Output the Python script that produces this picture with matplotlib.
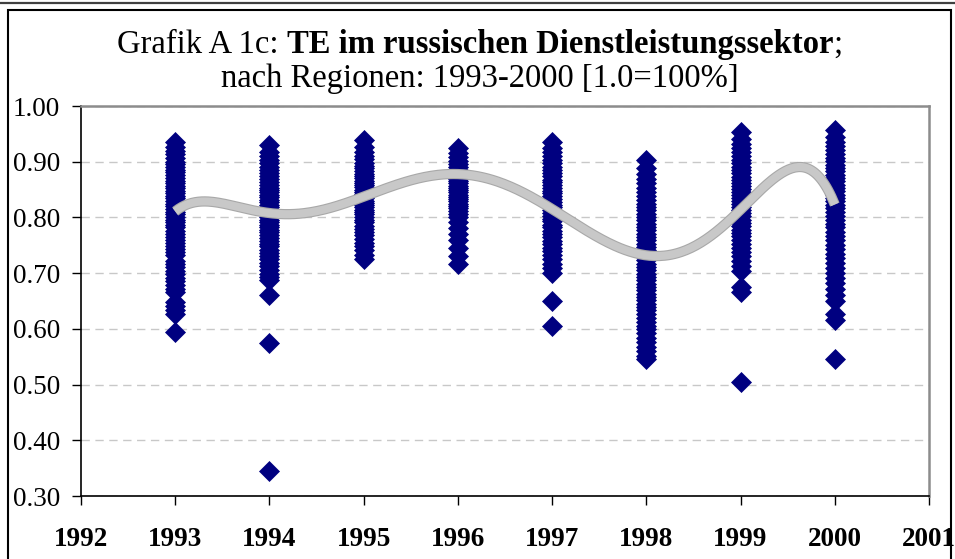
import numpy as np
import matplotlib
matplotlib.use("Agg")
import matplotlib.pyplot as plt
from matplotlib.lines import Line2D
from matplotlib.patches import Rectangle

# ---------------- data ----------------
years = [1993, 1994, 1995, 1996, 1997, 1998, 1999, 2000]

te_1993 = [0.935, 0.926, 0.919, 0.913, 0.906, 0.900, 0.896, 0.890, 0.886, 0.881,
           0.877, 0.871, 0.866, 0.861, 0.857, 0.852, 0.848, 0.843, 0.838, 0.834,
           0.829, 0.824, 0.820, 0.815, 0.810, 0.806, 0.801, 0.796, 0.791, 0.787,
           0.782, 0.776, 0.771, 0.765, 0.760, 0.754, 0.749, 0.744, 0.738, 0.732,
           0.722, 0.716, 0.711, 0.704, 0.698, 0.692, 0.686, 0.679, 0.672, 0.667,
           0.648, 0.641, 0.634, 0.626, 0.594]
te_1994 = [0.930, 0.918, 0.910, 0.903, 0.897, 0.891, 0.886, 0.880, 0.874, 0.869,
           0.864, 0.858, 0.853, 0.849, 0.845, 0.840, 0.836, 0.831, 0.827, 0.822,
           0.818, 0.813, 0.809, 0.805, 0.800, 0.796, 0.792, 0.787, 0.782, 0.778,
           0.773, 0.768, 0.763, 0.758, 0.753, 0.748, 0.742, 0.737, 0.731, 0.726,
           0.719, 0.713, 0.706, 0.699, 0.693, 0.688, 0.660, 0.574, 0.345]
te_1995 = [0.939, 0.926, 0.917, 0.910, 0.904, 0.898, 0.893, 0.888, 0.883, 0.878,
           0.874, 0.870, 0.866, 0.862, 0.858, 0.854, 0.850, 0.846, 0.842, 0.838,
           0.834, 0.830, 0.826, 0.822, 0.818, 0.814, 0.810, 0.806, 0.801, 0.796,
           0.791, 0.785, 0.780, 0.774, 0.768, 0.762, 0.755, 0.748, 0.741, 0.733,
           0.725]
te_1996 = [0.925, 0.915, 0.908, 0.902, 0.896, 0.891, 0.886, 0.881, 0.877, 0.873,
           0.869, 0.865, 0.861, 0.857, 0.853, 0.849, 0.845, 0.841, 0.837, 0.833,
           0.829, 0.825, 0.821, 0.817, 0.812, 0.806, 0.800, 0.792, 0.781, 0.770,
           0.760, 0.746, 0.731, 0.717]
te_1997 = [0.936, 0.925, 0.917, 0.910, 0.903, 0.897, 0.891, 0.885, 0.879, 0.874,
           0.868, 0.863, 0.858, 0.853, 0.848, 0.843, 0.838, 0.833, 0.828, 0.823,
           0.818, 0.813, 0.808, 0.803, 0.798, 0.793, 0.787, 0.782, 0.776, 0.770,
           0.764, 0.758, 0.752, 0.746, 0.739, 0.732, 0.725, 0.717, 0.710, 0.701,
           0.650, 0.606]
te_1998 = [0.903, 0.889, 0.878, 0.869, 0.861, 0.853, 0.846, 0.839, 0.832, 0.825,
           0.819, 0.813, 0.807, 0.801, 0.795, 0.789, 0.783, 0.777, 0.771, 0.765,
           0.759, 0.753, 0.747, 0.741, 0.735, 0.729, 0.723, 0.717, 0.711, 0.705,
           0.699, 0.693, 0.687, 0.681, 0.675, 0.669, 0.663, 0.657, 0.651, 0.645,
           0.639, 0.633, 0.627, 0.620, 0.613, 0.606, 0.599, 0.592, 0.584, 0.576,
           0.568, 0.560, 0.552, 0.545]
te_1999 = [0.953, 0.941, 0.932, 0.924, 0.917, 0.910, 0.903, 0.897, 0.891, 0.885,
           0.879, 0.873, 0.867, 0.862, 0.857, 0.851, 0.846, 0.840, 0.835, 0.830,
           0.824, 0.819, 0.813, 0.808, 0.802, 0.796, 0.790, 0.784, 0.778, 0.772,
           0.766, 0.759, 0.752, 0.745, 0.738, 0.730, 0.722, 0.713, 0.704, 0.676,
           0.667, 0.505]
te_2000 = [0.957, 0.945, 0.936, 0.928, 0.921, 0.914, 0.907, 0.901, 0.895, 0.889,
           0.883, 0.877, 0.871, 0.865, 0.859, 0.853, 0.847, 0.841, 0.835, 0.829,
           0.823, 0.817, 0.810, 0.803, 0.796, 0.789, 0.782, 0.774, 0.767, 0.759,
           0.751, 0.743, 0.735, 0.727, 0.719, 0.710, 0.701, 0.692, 0.682, 0.671,
           0.660, 0.650, 0.627, 0.616, 0.545]

series = [te_1993, te_1994, te_1995, te_1996, te_1997, te_1998, te_1999, te_2000]

# polynomial trend line
trend_x = [1993.00, 1993.25, 1993.50, 1993.75, 1994.00, 1994.25, 1994.50, 1994.75,
           1995.00, 1995.25, 1995.50, 1995.75, 1996.00, 1996.25, 1996.50, 1996.75,
           1997.00, 1997.25, 1997.50, 1997.75, 1998.00, 1998.25, 1998.50, 1998.75,
           1999.00, 1999.25, 1999.50, 1999.75, 2000.00]
trend_y = [0.812, 0.825, 0.826, 0.818, 0.808, 0.806, 0.810, 0.820,
           0.837, 0.855, 0.869, 0.875, 0.876, 0.872, 0.860, 0.840,
           0.816, 0.788, 0.762, 0.742, 0.732, 0.734, 0.748, 0.777,
           0.813, 0.853, 0.884, 0.888, 0.822]

x_ticks = [1992, 1993, 1994, 1995, 1996, 1997, 1998, 1999, 2000, 2001]
y_ticks = [0.30, 0.40, 0.50, 0.60, 0.70, 0.80, 0.90, 1.00]

title_l1 = [("Grafik A 1c: ", "normal"), ("TE im russischen Dienstleistungssektor", "bold"), (";", "normal")]
title_l2 = "nach Regionen: 1993-2000 [1.0=100%]"

# ---------------- figure ----------------
plt.rcParams["font.family"] = ["Liberation Serif", "DejaVu Serif"]
W, H = 955, 559
fig = plt.figure(figsize=(W / 100, H / 100), dpi=100)
fig.patch.set_facecolor("white")

L, R, T, B = 81, 929, 106, 496
ax = fig.add_axes([L / W, 1 - B / H, (R - L) / W, (B - T) / H])

navy = "#000080"
for yr, vals in zip(years, series):
    ax.plot([yr] * len(vals), vals, ls="none", marker="D", ms=10.6,
            mfc=navy, mec=navy, mew=0.5, zorder=3)

tx = np.array(trend_x)
coef = np.polyfit(tx - 1996.5, np.array(trend_y), 8)
xs = np.linspace(trend_x[0], trend_x[-1], 400)
ys = np.polyval(coef, xs - 1996.5)
ax.plot(xs, ys, color="#a8a8a8", lw=7.4, solid_capstyle="butt", zorder=4)
ax.plot(xs, ys, color="#c8c8c8", lw=5.8, solid_capstyle="butt", zorder=5)

ax.set_xlim(1992, 2001)
ax.set_ylim(0.30, 1.00)
ax.set_xticks(x_ticks)
ax.set_xticklabels([str(v) for v in x_ticks], fontweight="bold")
ax.set_yticks(y_ticks)
ax.set_yticklabels(["%.2f" % v for v in y_ticks])
ax.tick_params(axis="both", direction="out", length=6.5, width=1.0, color="black",
               labelsize=19.5, labelcolor="black")
ax.tick_params(axis="x", pad=16)
ax.tick_params(axis="y", pad=8.5)

for s in ("top", "right"):
    ax.spines[s].set_color("#8c8c8c")
    ax.spines[s].set_linewidth(1.8)
for s in ("left", "bottom"):
    ax.spines[s].set_color("black")
    ax.spines[s].set_linewidth(1.2)

ax.yaxis.grid(True, color="#c8c8c8", lw=1.0, ls=(0, (6, 4)))
ax.set_axisbelow(True)

# outer frame and top rule
fig.add_artist(Rectangle((8 / W, -0.02), (951 - 8) / W, (H - 10) / H + 0.02,
                         transform=fig.transFigure, fill=False, lw=1.5,
                         edgecolor="black", zorder=10))
fig.add_artist(Line2D([0, 1], [1 - 3 / H, 1 - 3 / H], transform=fig.transFigure,
                      color="#404040", lw=1.6))

# ---------------- title ----------------
title_size = 23.5
cx = 480
renderer = fig.canvas.get_renderer()

def text_w(s, weight):
    t = fig.text(0, 0, s, fontsize=title_size, fontweight=weight)
    w = t.get_window_extent(renderer).width
    t.remove()
    return w

space_w = text_w("x x", "normal") - text_w("xx", "normal")
pieces = []
for s, wgt in title_l1:
    w = text_w(s.strip(), wgt) + (space_w if s.endswith(" ") else 0)
    pieces.append((s.strip(), wgt, w))
total = sum(p[2] for p in pieces)
x0 = cx - total / 2
for s, wgt, w in pieces:
    fig.text(x0 / W, 1 - 53 / H, s, fontsize=title_size, fontweight=wgt,
             ha="left", va="baseline")
    x0 += w
fig.text(cx / W, 1 - 87 / H, title_l2, fontsize=title_size, ha="center", va="baseline")

fig.savefig("out.png", dpi=100)
